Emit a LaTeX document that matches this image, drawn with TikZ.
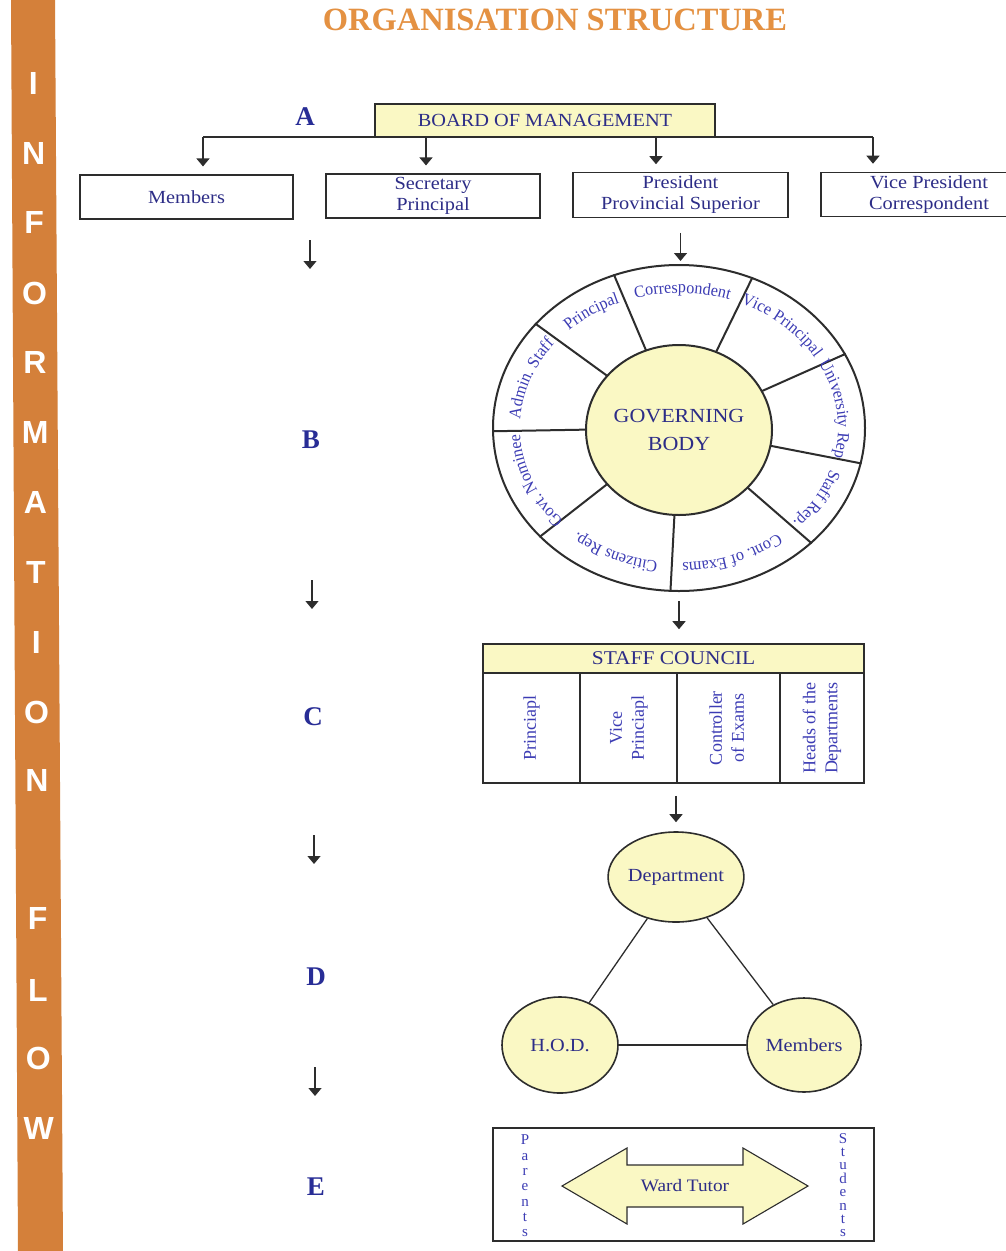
\documentclass[tikz,border=0pt]{standalone}
\usepackage{fontspec}
\usepackage{graphicx}
\setmainfont{Liberation Serif}
\newfontfamily\stripfont{Liberation Sans}
\newfontfamily\boxfam{Liberation Serif}[FakeStretch=1.1]
\newfontfamily\wheelfam{Liberation Serif}[FakeStretch=0.95]
\usetikzlibrary{arrows.meta}
\usetikzlibrary{calc}
\usetikzlibrary{positioning}
\usetikzlibrary{shapes}
\usetikzlibrary{decorations.text}
\definecolor{stripcol}{RGB}{212,128,58}
\definecolor{titlecol}{RGB}{228,145,66}
\definecolor{navy}{RGB}{45,45,135}
\definecolor{wheeltxt}{RGB}{60,60,180}
\definecolor{lettercol}{RGB}{40,45,150}
\definecolor{paleyellow}{RGB}{250,248,196}
\definecolor{linecol}{RGB}{45,45,45}
\newcommand\wheelfont{\wheelfam\fontsize{17}{17}\selectfont\color{wheeltxt}}
% label written along the rim of the wheel, #1 = middle angle
\newcommand\wheellabel[2]{%
  \path[decorate, decoration={text along path, text align=center, text={|\wheelfont|#2}}]
    ($(wheel.center)+({-(#1)-40}:159 and 135)$)
    arc[start angle={-(#1)-40}, end angle={-(#1)+40}, x radius=159, y radius=135];}
\tikzset{
  flow/.style={text=white, font=\stripfont\fontsize{32}{32}\selectfont\bfseries},
  sect/.style={text=lettercol, font=\fontsize{27}{27}\selectfont\bfseries},
  box/.style={draw=linecol, line width=1.1pt, fill=white, minimum width=214pt,
    minimum height=44pt, align=center, text=navy, font=\boxfam\fontsize{18.5}{21}\selectfont},
  ybox/.style={box, fill=paleyellow},
  cell/.style={draw=linecol, line width=1.6pt, minimum height=110pt, text=wheeltxt,
    font=\fontsize{18}{22}\selectfont},
  blob/.style={ellipse, draw=linecol, line width=1.6pt, fill=paleyellow, inner sep=0,
    text=navy, font=\boxfam\fontsize{18.5}{20}\selectfont},
  link/.style={draw=linecol, line width=1.3pt},
  arrow/.style={-{Triangle[length=8pt,width=13pt]}, line width=1.3pt, draw=linecol},
  stack/.style={text=wheeltxt, align=center}
}
\begin{document}
\begin{tikzpicture}[x=1pt, y=-1pt]
  \useasboundingbox[fill=white] (0,0) rectangle (1005,1251);
  % side strip
  \fill[stripcol] (11,0) -- (55,0) -- (63,1251) -- (18,1251) -- cycle;
  \foreach \l/\y [count=\i] in {I/83,N/153,F/222,O/293,R/362,M/432,A/502,T/572,
      I/642,O/712,N/780,F/918,L/990,O/1058,W/1128}
    \node[flow] (flow\i) at ({33+0.005*\y},\y) {\l};
  \node[text=titlecol, font=\fontsize{32.5}{32.5}\selectfont\bfseries] (title) at (555,20)
    {ORGANISATION STRUCTURE};

  % A
  \node[sect] (la) at (305,117) {A};
  \node[ybox, minimum width=340pt, minimum height=33pt] (bom) at (545,120.5) {BOARD OF MANAGEMENT};
  \node[box, minimum width=213pt] (mem) at (186.5,197) {Members};
  \node[box] (sec) at (433,196) {Secretary\\Principal};
  \node[box, minimum width=215pt] (pres) at (680.5,195) {President\\Provincial Superior};
  \node[box, minimum width=216pt] (vp) at (929,194.5) {Vice President\\Correspondent};
  \coordinate (d1) at (203,137);
  \coordinate (d2) at (426,137);
  \coordinate (d3) at (656,137);
  \coordinate (d4) at (873,137);
  \draw[link] (d1) -- (d4);
  \draw[arrow, shorten >=8pt] (d1) -- (d1 |- mem.north);
  \draw[arrow, shorten >=8pt] (d2) -- (d2 |- sec.north);
  \draw[arrow, shorten >=8pt] (d3) -- (d3 |- pres.north);
  \draw[arrow, shorten >=8pt] (d4) -- (d4 |- vp.north);

  % left hand arrows
  \foreach \x/\y [count=\i] in {310/240,312/580,314/835,315/1067} {
    \coordinate (s\i) at (\x,\y);
    \coordinate (e\i) at (\x,\y+29);
    \draw[arrow] (s\i) -- (e\i);
  }

  % B
  \node[sect] (lb) at (311,440) {B};
  \node[ellipse, draw=linecol, line width=2pt, minimum width=372pt, minimum height=326pt,
    inner sep=0] (wheel) at (679,428) {};
  \foreach \a in {113,64,24,349,319,267,218,181,144}
    \draw[linecol, line width=2pt] (wheel.\a) -- (wheel.center);
  \node[blob, line width=2pt, minimum width=186pt, minimum height=170pt, align=center,
    font=\boxfam\fontsize{20}{28}\selectfont] (gb) at (679,430) {GOVERNING\\BODY};
  \wheellabel{88.7}{Correspondent}
  \wheellabel{47.8}{Vice Principal}
  \wheellabel{7.5}{University Rep}
  \wheellabel{-29.5}{Staff Rep.}
  \wheellabel{-69.3}{Cont. of Exams}
  \wheellabel{-114.8}{Citizens Rep.}
  \wheellabel{-158}{Govt. Nominee}
  \wheellabel{160}{Admin. Staff}
  \wheellabel{124.4}{Principal}
  \draw[arrow, shorten <=15pt, shorten >=3pt] (pres.south) -- (pres.south |- wheel.north);

  % C
  \node[sect] (lc) at (313,717) {C};
  \node[cell, fill=paleyellow, minimum width=381pt, minimum height=29pt, text=navy,
    font=\boxfam\fontsize{19.5}{21}\selectfont] (sc) at (673.5,658.5) {STAFF COUNCIL};
  \node[cell, minimum width=97pt] (c1) at (531.5,728) {\rotatebox{90}{Princiapl}};
  \node[cell, minimum width=97pt] (c2) at (628.5,728)
    {\rotatebox{90}{\begin{tabular}{@{}c@{}}Vice\\Princiapl\end{tabular}}};
  \node[cell, minimum width=103pt] (c3) at (728.5,728)
    {\rotatebox{90}{\begin{tabular}{@{}c@{}}Controller\\of Exams\end{tabular}}};
  \node[cell, minimum width=84pt] (c4) at (822,728)
    {\rotatebox{90}{\begin{tabular}{@{}c@{}}Heads of the\\Departments\end{tabular}}};
  \draw[arrow, shorten <=9pt, shorten >=14pt] (wheel.south) -- (wheel.south |- sc.north);

  % D
  \node[sect] (ld) at (316,977) {D};
  \node[blob, minimum width=118pt, minimum height=90pt] (dept) at (676,877) {Department};
  \node[blob, minimum width=116pt, minimum height=96pt] (hod) at (560,1045) {H.O.D.};
  \node[blob, minimum width=114pt, minimum height=94pt] (memb) at (804,1045) {Members};
  \draw[link] (dept) -- (hod);
  \draw[link] (hod) -- (memb);
  \draw[link] (dept) -- (memb);
  \draw[arrow, shorten <=12pt, shorten >=9pt] (dept.north |- c2.south) -- (dept.north);

  % E
  \node[sect] (le) at (316,1187) {E};
  \node[draw=linecol, line width=1.6pt, minimum width=381pt, minimum height=113pt]
    (ebox) at (683.5,1184.5) {};
  \coordinate (wt) at (685,1186);
  \draw[linecol, line width=1.1pt, fill=paleyellow] (wt) ++(-123,0) -- ++(65,-38) -- ++(0,17)
    -- ++(116,0) -- ++(0,-17) -- ++(65,38) -- ++(-65,38) -- ++(0,-17) -- ++(-116,0)
    -- ++(0,17) -- cycle;
  \node[text=navy, font=\boxfam\fontsize{17.5}{19}\selectfont] (ward) at (wt) {Ward Tutor};
  \node[stack, font=\fontsize{15}{15.3}\selectfont] (par) at (525,1186) {P\\a\\r\\e\\n\\t\\s};
  \node[stack, font=\fontsize{15}{13.4}\selectfont] (stu) at (843,1185) {S\\t\\u\\d\\e\\n\\t\\s};
\end{tikzpicture}
\end{document}
